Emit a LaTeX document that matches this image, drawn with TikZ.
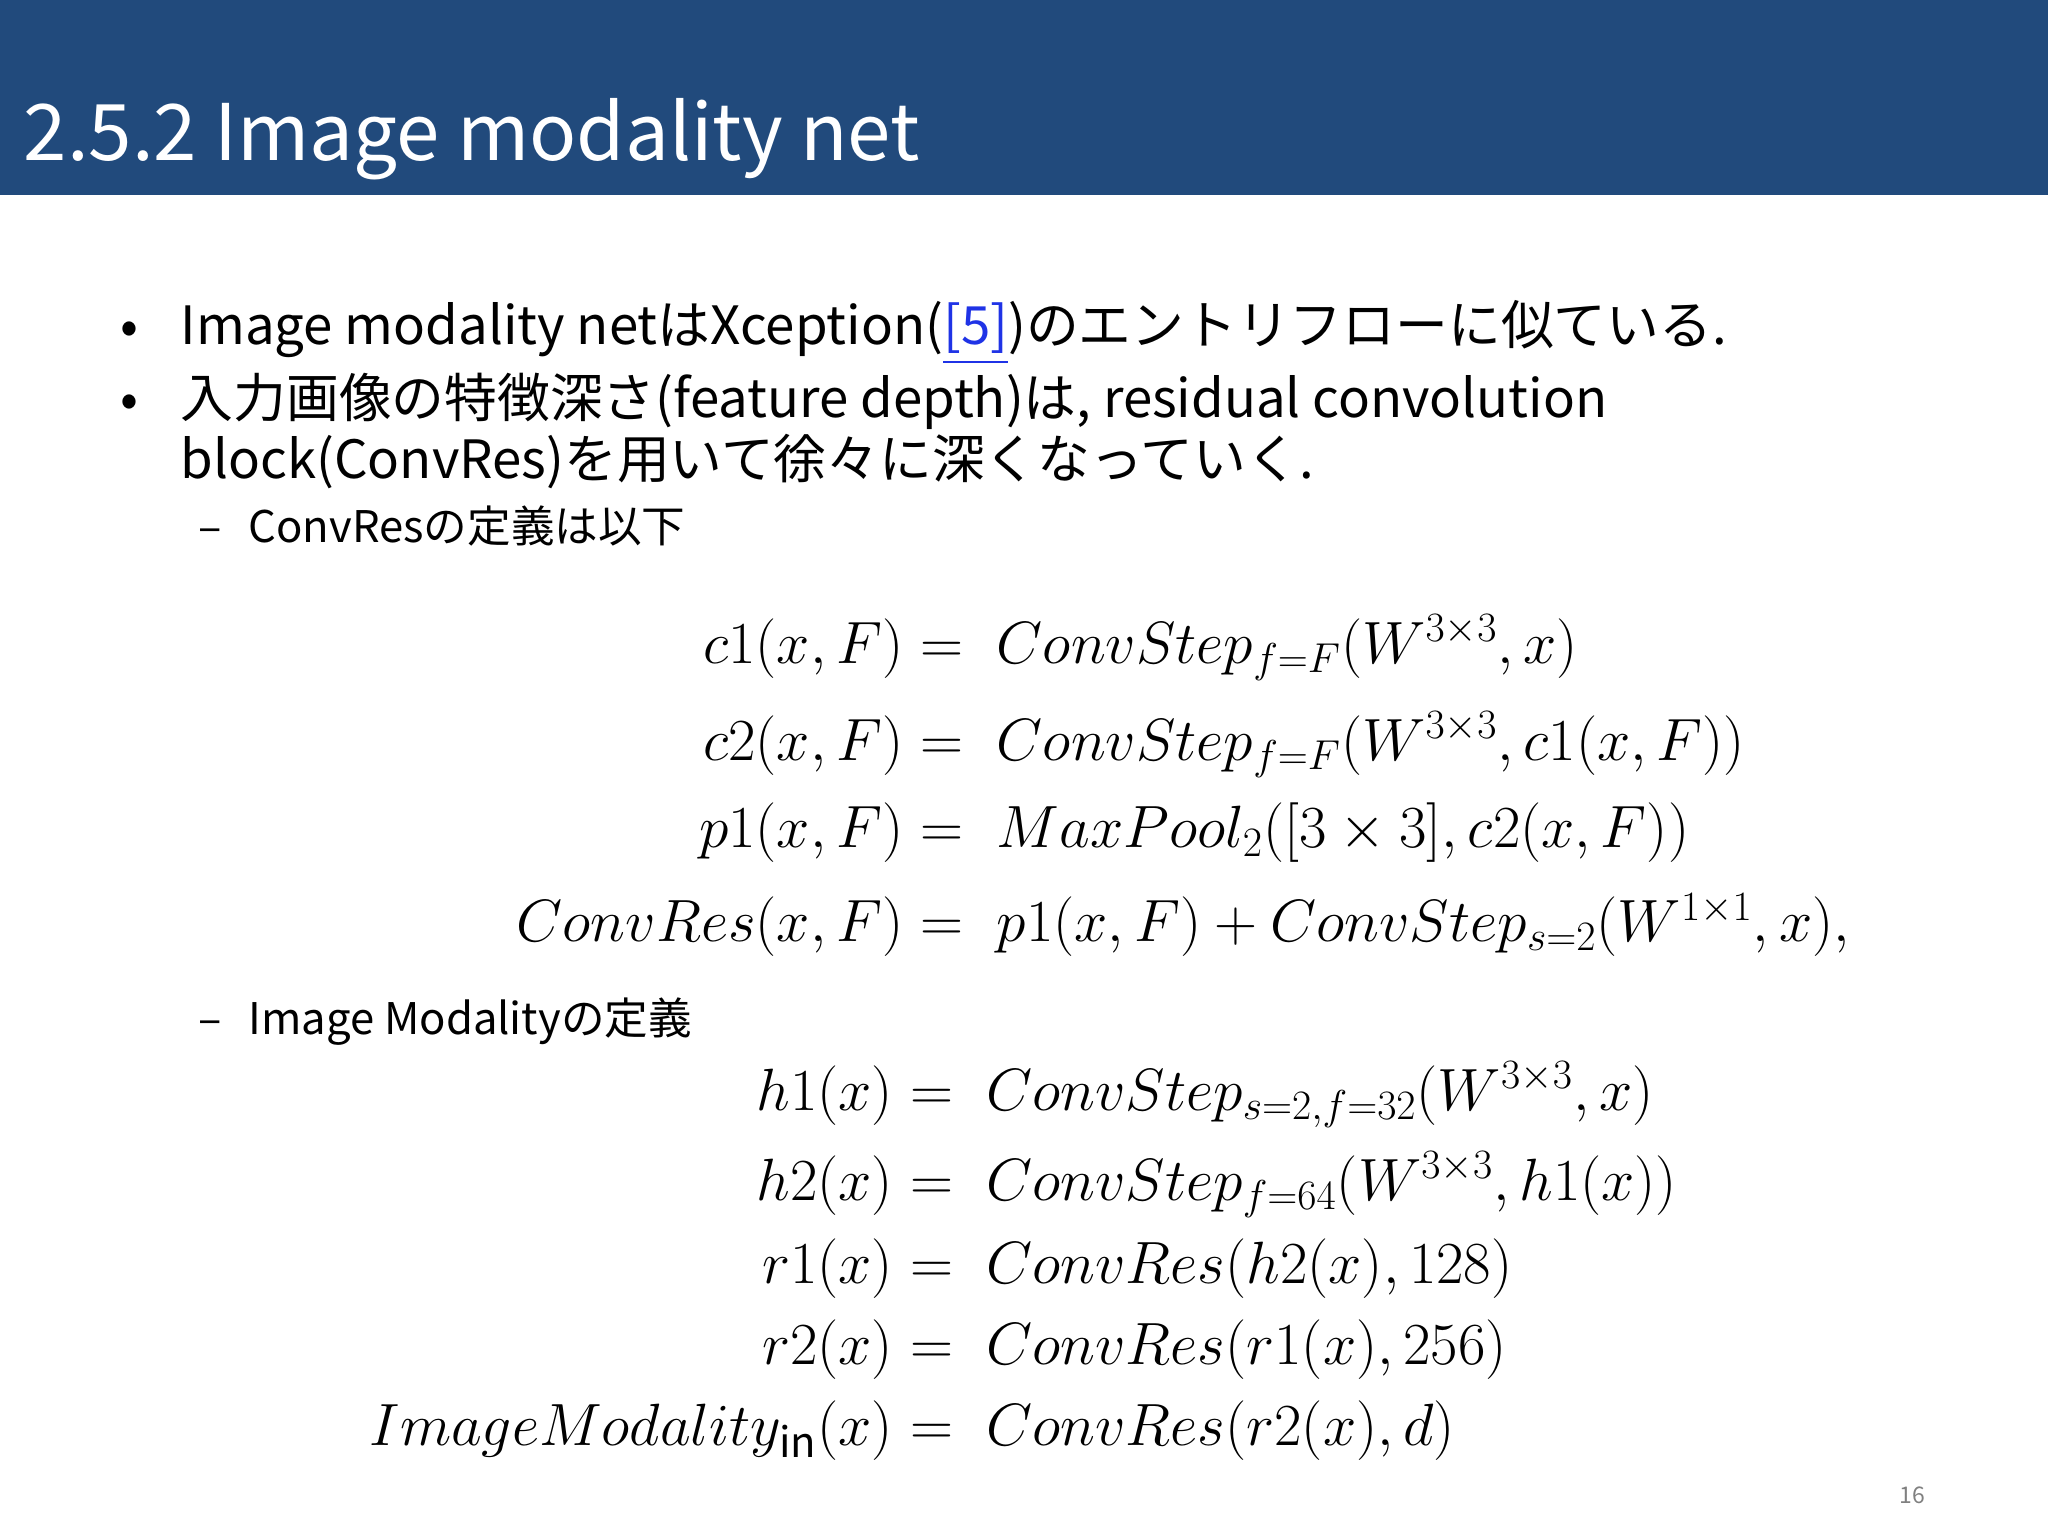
\documentclass[tikz,border=0pt]{standalone}
\usepackage{fix-cm}
\usepackage{amsmath}
\usepackage{fontspec}
\setmainfont{Noto Sans CJK JP}
\definecolor{hdr}{HTML}{214A7C}
\definecolor{lnk}{HTML}{1F33E6}
\tikzset{
  body/.style={anchor=base west,inner sep=0pt,font=\fontsize{23}{27}\selectfont},
  sub/.style={anchor=base west,inner sep=0pt,font=\fontsize{19}{23}\selectfont},
  lhs/.style={anchor=base east,inner sep=0pt,font=\fontsize{26}{30}\selectfont},
  rhs/.style={anchor=base west,inner sep=0pt,font=\fontsize{26}{30}\selectfont},
}
\begin{document}
\begin{tikzpicture}[x=0.02cm,y=-0.02cm]
\useasboundingbox (0,0) rectangle (1568,1176);
\fill[hdr] (0,0) rectangle (1568,149);
\node[anchor=base west,inner sep=0pt,text=white,font=\fontsize{34}{40}\selectfont] (title) at (18,123) {2.5.2 Image modality net};
\node[body] (b1) at (92,264) {•};
\node[body] (t1) at (138,264) {Image modality netはXception({\color{lnk}\underline{[5]}})のエントリフローに似ている.};
\node[body] (b2) at (92,320) {•};
\node[body] (t2) at (138,320) {入力画像の特徴深さ(feature depth)は, residual convolution};
\node[body] (t3) at (138,366) {block(ConvRes)を用いて徐々に深くなっていく.};
\node[sub] (d1) at (152,415) {–};
\node[sub] (s1) at (190,415) {ConvResの定義は以下};
\node[sub] (d2) at (152,792) {–};
\node[sub] (s2) at (190,792) {Image Modalityの定義};
% ConvRes equations
\node[lhs] (l1) at (692,508) {$c1(x,F)$};
\node[rhs] (r1) at (692,508) {$\;=\; ConvStep_{f=F}(W^{3\times3},x)$};
\node[lhs] (l2) at (692,582) {$c2(x,F)$};
\node[rhs] (r2) at (692,582) {$\;=\; ConvStep_{f=F}(W^{3\times3},c1(x,F))$};
\node[lhs] (l3) at (692,649) {$p1(x,F)$};
\node[rhs] (r3) at (692,649) {$\;=\; MaxPool_2([3\times3],c2(x,F))$};
\node[lhs] (l4) at (692,721) {$ConvRes(x,F)$};
\node[rhs] (r4) at (692,721) {$\;=\; p1(x,F)+ConvStep_{s=2}(W^{1\times1},x),$};
% Image modality equations
\node[lhs] (m1) at (684,850) {$h1(x)$};
\node[rhs] (n1) at (684,850) {$\;=\; ConvStep_{s=2,f=32}(W^{3\times3},x)$};
\node[lhs] (m2) at (684,919) {$h2(x)$};
\node[rhs] (n2) at (684,919) {$\;=\; ConvStep_{f=64}(W^{3\times3},h1(x))$};
\node[lhs] (m3) at (684,983) {$r1(x)$};
\node[rhs] (n3) at (684,983) {$\;=\; ConvRes(h2(x),128)$};
\node[lhs] (m4) at (684,1045) {$r2(x)$};
\node[rhs] (n4) at (684,1045) {$\;=\; ConvRes(r1(x),256)$};
\node[lhs] (m5) at (684,1107) {$ImageModality_{\mathrm{in}}(x)$};
\node[rhs] (n5) at (684,1107) {$\;=\; ConvRes(r2(x),d)$};
\node[anchor=base east,inner sep=0pt,text=gray,font=\fontsize{10}{12}\selectfont] (pg) at (1474,1151) {16};
\end{tikzpicture}
\end{document}
